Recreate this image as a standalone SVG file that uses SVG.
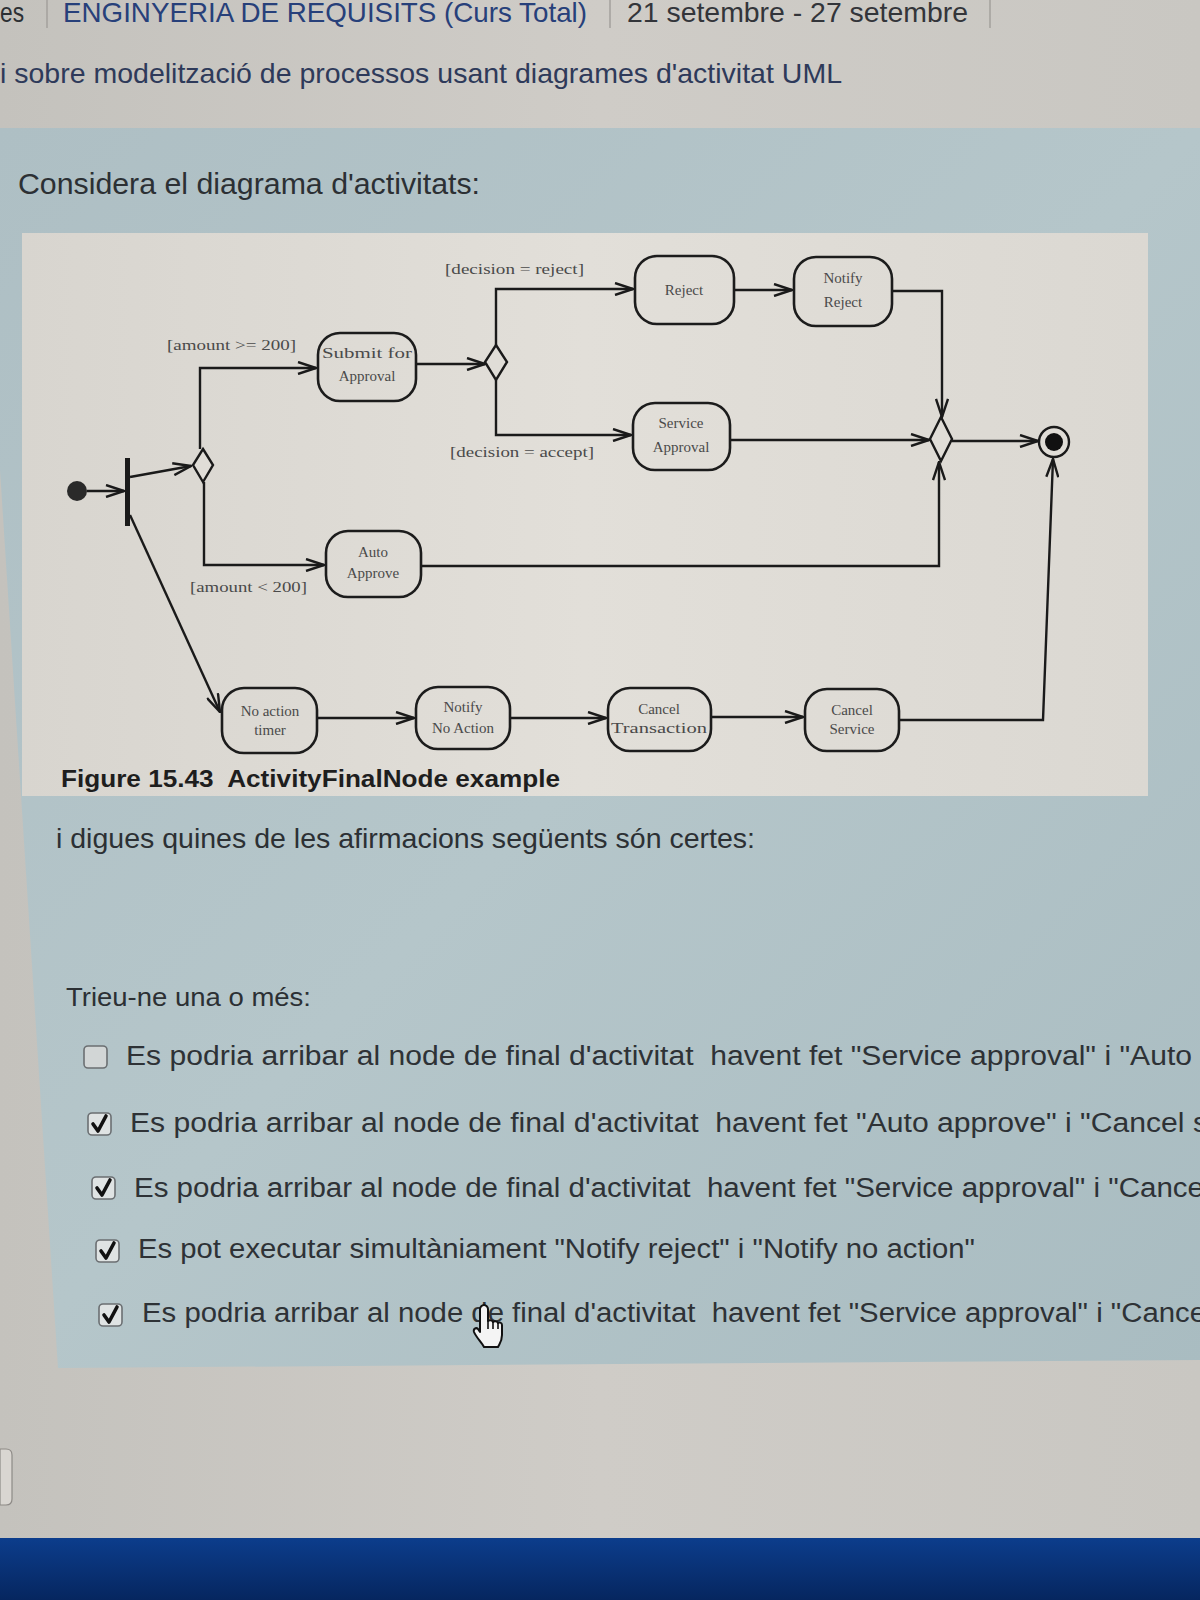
<svg xmlns="http://www.w3.org/2000/svg" width="1200" height="1600" viewBox="0 0 1200 1600">
<defs>
<linearGradient id="bgTop" x1="0" y1="0" x2="1" y2="0">
<stop offset="0" stop-color="#c4c2bd"/><stop offset="0.5" stop-color="#cfccc7"/><stop offset="1" stop-color="#c9c7c2"/>
</linearGradient>
<linearGradient id="panel" x1="0" y1="0" x2="1" y2="1">
<stop offset="0" stop-color="#aebfc4"/><stop offset="0.5" stop-color="#b5c6ca"/><stop offset="1" stop-color="#a9bcc1"/>
</linearGradient>
<linearGradient id="fig" x1="0" y1="0" x2="1" y2="0">
<stop offset="0" stop-color="#d8d5cf"/><stop offset="0.5" stop-color="#e2dfd9"/><stop offset="1" stop-color="#dbd8d2"/>
</linearGradient>
<linearGradient id="bottom" x1="0" y1="0" x2="0" y2="1">
<stop offset="0" stop-color="#0c3d8c"/><stop offset="1" stop-color="#06265f"/>
</linearGradient>
<marker id="arr" viewBox="0 0 20 14" refX="19" refY="7" markerWidth="20" markerHeight="14" markerUnits="userSpaceOnUse" orient="auto">
<path d="M1,1 L19,7 L1,13" fill="none" stroke="#1a1a1a" stroke-width="2.4"/>
</marker>
<style>
.page{font-family:"Liberation Sans",Arial,sans-serif;fill:#2c3034}
.node rect{fill:none;stroke:#1c1c1c;stroke-width:2.6}
.lbl{font-family:"Liberation Serif","Times New Roman",serif;font-size:15px;fill:#4a4a4a;text-anchor:middle}
.guard{font-family:"Liberation Serif","Times New Roman",serif;font-size:15px;fill:#4a4a4a}
.edge{fill:none;stroke:#1a1a1a;stroke-width:2.4;marker-end:url(#arr)}
.line{fill:none;stroke:#1a1a1a;stroke-width:2.4}
.diamond{fill:#e0ddd7;stroke:#1a1a1a;stroke-width:2.4}
.opt{font-family:"Liberation Sans",Arial,sans-serif;font-size:27px;fill:#2e3236}
.cb{fill:#dfe3e3;stroke:#6b6f72;stroke-width:1.6}
.chk{fill:none;stroke:#111;stroke-width:3.6;stroke-linecap:round;stroke-linejoin:round}
</style>
</defs>

<!-- backgrounds -->
<rect x="0" y="0" width="1200" height="1600" fill="url(#bgTop)"/>
<polygon points="0,128 1200,128 1200,1360 58,1368 0,470" fill="url(#panel)"/>
<rect x="0" y="1538" width="1200" height="62" fill="url(#bottom)"/>
<path d="M0,1449 L6,1449 Q12,1449 12,1455 L12,1499 Q12,1505 6,1505 L0,1505 Z" fill="#d9d6d1" stroke="#8d8a86" stroke-width="1.2"/>

<!-- header -->
<g id="header">
<text class="page" x="0" y="22" font-size="28" fill="#3b4868" textLength="24" lengthAdjust="spacingAndGlyphs">es</text>
<line x1="47" y1="0" x2="47" y2="28" stroke="#a3a19d" stroke-width="1.5"/>
<text class="page" x="63" y="22" font-size="28" style="fill:#27407a" textLength="524" lengthAdjust="spacingAndGlyphs">ENGINYERIA DE REQUISITS (Curs Total)</text>
<line x1="610" y1="0" x2="610" y2="28" stroke="#a3a19d" stroke-width="1.5"/>
<text class="page" x="627" y="22" font-size="28" style="fill:#33353a" textLength="341" lengthAdjust="spacingAndGlyphs">21 setembre - 27 setembre</text>
<line x1="990" y1="0" x2="990" y2="28" stroke="#a3a19d" stroke-width="1.5"/>
<text class="page" x="0" y="83" font-size="28" style="fill:#2e3a5a" textLength="842" lengthAdjust="spacingAndGlyphs">i sobre modelització de processos usant diagrames d'activitat UML</text>
</g>

<text class="page" x="18" y="194" font-size="30" textLength="462" lengthAdjust="spacingAndGlyphs">Considera el diagrama d'activitats:</text>

<!-- figure -->
<rect x="22" y="233" width="1126" height="563" fill="url(#fig)"/>

<g id="connectors">
<path class="edge" d="M87,491 L124,491"/>
<path class="edge" d="M130,477 L191,466"/>
<path class="edge" d="M200,449 L200,368 L316,368"/>
<path class="edge" d="M204,482 L204,565 L324,565"/>
<path class="edge" d="M130,515 L220,712"/>
<path class="edge" d="M416,364 L485,364"/>
<path class="edge" d="M496,345 L496,289 L633,289"/>
<path class="edge" d="M496,380 L496,435 L631,435"/>
<path class="edge" d="M734,290 L792,290"/>
<path class="edge" d="M892,291 L942,291 L942,417"/>
<path class="edge" d="M730,440 L929,440"/>
<path class="edge" d="M421,566 L939,566 L939,462"/>
<path class="edge" d="M952,441 L1038,441"/>
<path class="edge" d="M317,718 L414,718"/>
<path class="edge" d="M510,718 L606,718"/>
<path class="edge" d="M711,717 L803,717"/>
<path class="edge" d="M899,720 L1043,720 L1053,459"/>
</g>

<g id="initial"><circle cx="77" cy="491" r="10" fill="#2a2a2a"/></g>
<g id="fork"><rect x="125" y="458" width="5" height="68" fill="#1a1a1a"/></g>
<g id="decision1"><polygon class="diamond" points="203,449 213,465 203,482 193,465"/></g>
<g id="decision2"><polygon class="diamond" points="496,345 507,362 496,380 485,362"/></g>
<g id="merge"><polygon class="diamond" points="941,417 952,439 941,461 930,439"/></g>
<g id="final">
<circle cx="1054" cy="442" r="15" fill="#e0ddd7" stroke="#1a1a1a" stroke-width="2.4"/>
<circle cx="1054" cy="442" r="9" fill="#111"/>
</g>

<g id="submit" class="node"><rect x="318" y="333" width="98" height="68" rx="22"/>
<text class="lbl" x="367" y="358" textLength="90" lengthAdjust="spacingAndGlyphs">Submit for</text>
<text class="lbl" x="367" y="381">Approval</text></g>
<g id="reject" class="node"><rect x="635" y="256" width="99" height="68" rx="22"/>
<text class="lbl" x="684" y="295">Reject</text></g>
<g id="notifyReject" class="node"><rect x="794" y="257" width="98" height="69" rx="22"/>
<text class="lbl" x="843" y="283">Notify</text>
<text class="lbl" x="843" y="307">Reject</text></g>
<g id="serviceApproval" class="node"><rect x="633" y="403" width="97" height="67" rx="22"/>
<text class="lbl" x="681" y="428">Service</text>
<text class="lbl" x="681" y="452">Approval</text></g>
<g id="autoApprove" class="node"><rect x="326" y="531" width="95" height="66" rx="22"/>
<text class="lbl" x="373" y="557">Auto</text>
<text class="lbl" x="373" y="578">Approve</text></g>
<g id="noActionTimer" class="node"><rect x="222" y="688" width="95" height="65" rx="22"/>
<text class="lbl" x="270" y="716">No action</text>
<text class="lbl" x="270" y="735">timer</text></g>
<g id="notifyNoAction" class="node"><rect x="416" y="687" width="94" height="62" rx="22"/>
<text class="lbl" x="463" y="712">Notify</text>
<text class="lbl" x="463" y="733">No Action</text></g>
<g id="cancelTransaction" class="node"><rect x="608" y="688" width="103" height="63" rx="22"/>
<text class="lbl" x="659" y="714">Cancel</text>
<text class="lbl" x="659" y="733" textLength="96" lengthAdjust="spacingAndGlyphs">Transaction</text></g>
<g id="cancelService" class="node"><rect x="805" y="689" width="94" height="62" rx="22"/>
<text class="lbl" x="852" y="715">Cancel</text>
<text class="lbl" x="852" y="734">Service</text></g>

<g id="guards">
<text class="guard" x="167" y="350" textLength="129" lengthAdjust="spacingAndGlyphs">[amount &gt;= 200]</text>
<text class="guard" x="445" y="274" textLength="139" lengthAdjust="spacingAndGlyphs">[decision = reject]</text>
<text class="guard" x="450" y="457" textLength="144" lengthAdjust="spacingAndGlyphs">[decision = accept]</text>
<text class="guard" x="190" y="592" textLength="117" lengthAdjust="spacingAndGlyphs">[amount &lt; 200]</text>
</g>

<text x="61" y="787" font-family="Liberation Sans, Arial, sans-serif" font-weight="bold" font-size="24" fill="#1e1e1e" textLength="499" lengthAdjust="spacingAndGlyphs" xml:space="preserve">Figure 15.43  ActivityFinalNode example</text>

<text class="page" x="56" y="848" font-size="28" textLength="699" lengthAdjust="spacingAndGlyphs">i digues quines de les afirmacions següents són certes:</text>
<text class="page" x="66" y="1006" font-size="26" textLength="245" lengthAdjust="spacingAndGlyphs">Trieu-ne una o més:</text>

<!-- options -->
<g id="opt1">
<rect class="cb" x="84" y="1046" width="23" height="22" rx="4" style="fill:#d2d6d6"/>
<text class="opt" x="126" y="1065" xml:space="preserve" textLength="1066" lengthAdjust="spacingAndGlyphs">Es podria arribar al node de final d'activitat  havent fet "Service approval" i "Auto</text>
</g>
<g id="opt2">
<rect class="cb" x="88" y="1113" width="23" height="22" rx="4"/>
<path class="chk" d="M93,1124 L98,1131 L106,1116"/>
<text class="opt" x="130" y="1132" xml:space="preserve" textLength="1078" lengthAdjust="spacingAndGlyphs">Es podria arribar al node de final d'activitat  havent fet "Auto approve" i "Cancel s</text>
</g>
<g id="opt3">
<rect class="cb" x="92" y="1177" width="23" height="22" rx="4"/>
<path class="chk" d="M97,1188 L102,1195 L110,1180"/>
<text class="opt" x="134" y="1197" xml:space="preserve" textLength="1070" lengthAdjust="spacingAndGlyphs">Es podria arribar al node de final d'activitat  havent fet "Service approval" i "Cance</text>
</g>
<g id="opt4">
<rect class="cb" x="96" y="1240" width="23" height="22" rx="4"/>
<path class="chk" d="M101,1251 L106,1258 L114,1243"/>
<text class="opt" x="138" y="1258" textLength="837" lengthAdjust="spacingAndGlyphs">Es pot executar simultàniament "Notify reject" i "Notify no action"</text>
</g>
<g id="opt5">
<rect class="cb" x="99" y="1304" width="23" height="22" rx="4"/>
<path class="chk" d="M104,1315 L109,1322 L117,1307"/>
<text class="opt" x="142" y="1322" xml:space="preserve" textLength="1064" lengthAdjust="spacingAndGlyphs">Es podria arribar al node de final d'activitat  havent fet "Service approval" i "Cance</text>
</g>

<!-- mouse cursor -->
<g id="cursor" transform="translate(474,1305) scale(2)">
<path d="M5,0 C6,0 7,1 7,2 L7,8 C7.5,7.5 9,7.5 9.5,8.5 C10,8 11.5,8 12,9 C12.5,8.5 14,8.7 14,10 L14,15 C14,18 13,19 12,21 L5,21 C4,19 1,16 0,13.5 C-0.5,12 1,11 2,12 L3,13.5 L3,2 C3,1 4,0 5,0 Z" fill="#f4f4f4" stroke="#111" stroke-width="1" stroke-linejoin="round"/>
<path d="M7,8 L7,12 M9.5,8.5 L9.5,12 M12,9 L12,12" stroke="#111" stroke-width="0.8" fill="none"/>
</g>
</svg>
